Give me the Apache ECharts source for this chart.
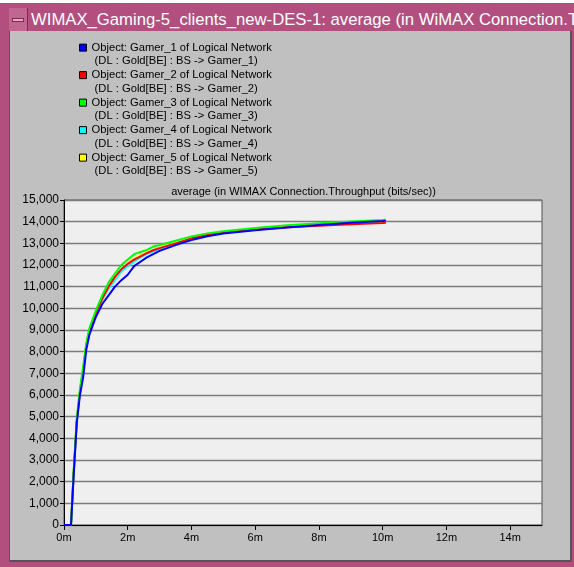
<!DOCTYPE html>
<html>
<head>
<meta charset="utf-8">
<script src="https://cdn.jsdelivr.net/npm/echarts@6/dist/echarts.min.js"></script>
<style>
  html, body { margin: 0; padding: 0; background: #ffffff; width: 574px; height: 567px; overflow: hidden; }
  #frame { position: absolute; left: 0; top: 3px; width: 574px; height: 564px; background: #b24f7f; }
  #minbox { position: absolute; left: 9px; top: 5px; width: 18px; height: 24px; background: #c0668f; border-right: 1px solid #7a2f52; }
  #minbar { position: absolute; left: 3px; top: 10px; width: 12px; height: 4px; background: #e9a9c6; border: 1px solid #7a2f52; box-sizing: border-box; }
  #wtitle { position: absolute; left: 31px; top: 4px; width: 543px; height: 26px; line-height: 26px; color: #ffffff; font-family: "Liberation Sans", Arial, sans-serif; font-size: 16.7px; white-space: nowrap; overflow: hidden; }
  #panel { position: absolute; left: 9px; top: 31px; width: 560px; height: 529px; background: #c0c0c0; border-left: 1px solid #555; border-right: 2px solid #555; border-bottom: 2px solid #555; }
  #chart { position: absolute; left: 0; top: 0; width: 574px; height: 567px; }
</style>
</head>
<body>
<div id="frame">
  <div id="minbox"><div id="minbar"></div></div>
  <div id="wtitle">WIMAX_Gaming-5_clients_new-DES-1: average (in WiMAX Connection.Throughput (bits/sec))</div>
</div>
<div id="panel"></div>
<div id="chart"></div>
<script>
// time in minutes
var times = [0, 0.22, 0.3, 0.4, 0.5, 0.6, 0.7, 0.8, 0.9, 1.0, 1.2, 1.4, 1.6, 1.8, 2.0, 2.2, 2.4, 2.6, 2.8, 3.0, 3.5, 4.0, 4.5, 5.0, 6.0, 7.0, 8.0, 9.0, 10.0, 10.1];
var gamer1 = [0, 0, 2200, 4700, 6000, 6800, 8100, 8800, 9200, 9600, 10200, 10600, 11000, 11300, 11550, 11950, 12150, 12350, 12500, 12650, 12920, 13150, 13330, 13450, 13600, 13730, 13850, 13950, 14030, 14040];
var gamer2 = [0, 0, 2300, 4800, 6150, 7100, 8300, 9000, 9400, 9800, 10450, 11000, 11450, 11800, 12050, 12250, 12400, 12550, 12680, 12780, 13000, 13230, 13380, 13490, 13640, 13740, 13810, 13880, 13940, 13950];
var gamer3 = [0, 0, 2400, 4900, 6300, 7300, 8400, 9100, 9500, 9900, 10600, 11200, 11600, 12000, 12250, 12500, 12600, 12700, 12850, 12920, 13120, 13320, 13460, 13560, 13710, 13840, 13930, 14010, 14080, 14090];
var gamer4 = [0, 0, 2300, 4750, 6100, 7000, 8200, 8900, 9300, 9700, 10400, 10900, 11300, 11700, 11950, 12150, 12350, 12500, 12620, 12740, 12980, 13200, 13370, 13480, 13630, 13750, 13840, 13920, 13990, 14000];
var gamer5 = [0, 0, 2300, 4800, 6150, 7100, 8300, 9000, 9400, 9800, 10450, 11000, 11450, 11800, 12100, 12300, 12450, 12580, 12700, 12800, 13020, 13250, 13400, 13510, 13660, 13770, 13850, 13930, 13990, 14000];

var seriesNames = [
  "Object: Gamer_1 of Logical Network",
  "Object: Gamer_2 of Logical Network",
  "Object: Gamer_3 of Logical Network",
  "Object: Gamer_4 of Logical Network",
  "Object: Gamer_5 of Logical Network"
];
var seriesSub = [
  " (DL : Gold[BE] : BS -> Gamer_1)",
  " (DL : Gold[BE] : BS -> Gamer_2)",
  " (DL : Gold[BE] : BS -> Gamer_3)",
  " (DL : Gold[BE] : BS -> Gamer_4)",
  " (DL : Gold[BE] : BS -> Gamer_5)"
];
var seriesColors = ["#0000ff", "#ff0000", "#00ff00", "#00ffff", "#ffff00"];
var seriesValues = [gamer1, gamer2, gamer3, gamer4, gamer5];
var seriesZ = [6, 4, 5, 2, 3];
var xTicks = [0, 2, 4, 6, 8, 10, 12, 14];
var chartTitle = "average (in WIMAX Connection.Throughput (bits/sec))";

function pairs(vals) {
  var out = [];
  for (var i = 0; i < times.length; i++) out.push([times[i], vals[i]]);
  return out;
}

var series = seriesNames.map(function (n, i) {
  return {
    name: n,
    type: 'line',
    data: pairs(seriesValues[i]),
    showSymbol: false,
    symbol: 'none',
    smooth: false,
    z: seriesZ[i],
    color: seriesColors[i],
    lineStyle: { color: seriesColors[i], width: 2 },
    itemStyle: { color: seriesColors[i] },
    animation: false
  };
});

var chart = echarts.init(document.getElementById('chart'), null, { renderer: 'canvas' });
var LH = 13.75;
chart.setOption({
  backgroundColor: 'transparent',
  animation: false,
  textStyle: { fontFamily: '"Liberation Sans", Arial, sans-serif' },
  legend: {
    orient: 'vertical',
    left: 79,
    top: 27,
    padding: 0,
    itemGap: -LH,
    itemWidth: 7,
    itemHeight: 7,
    icon: 'rect',
    itemStyle: { borderColor: '#000', borderWidth: 1 },
    data: seriesNames,
    formatter: function (name) {
      var i = seriesNames.indexOf(name);
      return ' \n' + name + '\n' + seriesSub[i];
    },
    textStyle: { fontSize: 11.2, color: '#000', lineHeight: LH },
    selectedMode: false
  },
  graphic: [{
    type: 'text',
    x: 303.5,
    y: 192,
    style: { text: chartTitle, fill: '#000', font: '11px "Liberation Sans", Arial, sans-serif', textAlign: 'center', textVerticalAlign: 'middle' }
  }],
  grid: {
    left: 64, top: 200, width: 478, height: 325,
    show: true, backgroundColor: '#efefef', borderColor: '#505050', borderWidth: 1,
    containLabel: false
  },
  xAxis: {
    type: 'value', min: 0, max: 15, interval: 2,
    axisLine: { show: true, onZero: false, lineStyle: { color: '#000', width: 1 } },
    axisTick: { show: true, length: 5, lineStyle: { color: '#000' }, customValues: xTicks },
    axisLabel: { color: '#000', fontSize: 11, margin: 7, formatter: '{value}m', customValues: xTicks },
    splitLine: { show: false }
  },
  yAxis: {
    type: 'value', min: 0, max: 15000, interval: 1000,
    axisLine: { show: true, lineStyle: { color: '#000', width: 1 } },
    axisTick: { show: true, length: 4, lineStyle: { color: '#000' } },
    axisLabel: { color: '#000', fontSize: 12, margin: 5, formatter: function (v) { return v.toLocaleString('en-US'); } },
    splitLine: { show: true, lineStyle: { color: '#7c7c7c', width: 1.3 } }
  },
  series: series
});
</script>
</body>
</html>
